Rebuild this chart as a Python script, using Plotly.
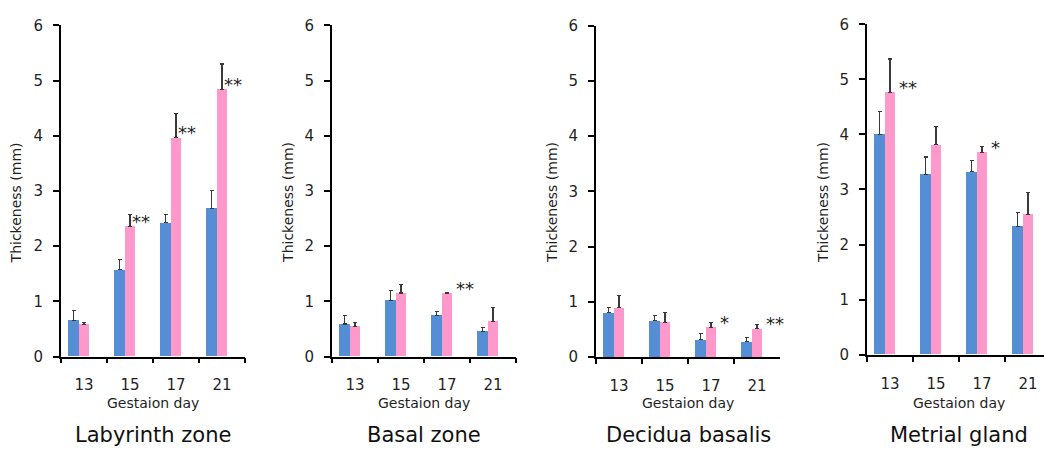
import plotly.graph_objects as go

# ---------------- data ----------------
days = ["13", "15", "17", "21"]
panel_titles = ["Labyrinth zone", "Basal zone", "Decidua basalis", "Metrial gland"]

blue_vals = [
    [0.65, 1.57, 2.42, 2.68],
    [0.59, 1.02, 0.75, 0.45],
    [0.80, 0.66, 0.32, 0.28],
    [4.00, 3.27, 3.32, 2.33],
]
blue_err = [
    [0.18, 0.18, 0.16, 0.32],
    [0.16, 0.18, 0.07, 0.07],
    [0.10, 0.09, 0.11, 0.07],
    [0.41, 0.32, 0.20, 0.26],
]
pink_vals = [
    [0.58, 2.36, 3.96, 4.84],
    [0.54, 1.15, 1.15, 0.63],
    [0.89, 0.63, 0.54, 0.52],
    [4.77, 3.81, 3.68, 2.55],
]
pink_err = [
    [0.04, 0.22, 0.44, 0.46],
    [0.08, 0.16, 0.01, 0.26],
    [0.23, 0.18, 0.08, 0.07],
    [0.60, 0.33, 0.10, 0.39],
]
sig_marks = [
    ["", "**", "**", "**"],
    ["", "", "**", ""],
    ["", "", "*", "**"],
    ["**", "", "*", ""],
]
y_ticks = [0, 1, 2, 3, 4, 5, 6]

# ---------------- style / layout ----------------
W, H = 1044, 450
FONT = "DejaVu Sans"
TXT = "#1f1f1f"
BLUE = "#558ED5"
PINK = "#FF99CC"
ERRC = "#3a3a3a"

# pixel geometry of each plot area: (x_left, x_right_full, y_top, y_bottom)
geo = [
    (61.0, 245.0, 17.0, 362.0),
    (332.0, 516.0, 17.0, 362.0),
    (596.0, 780.0, 17.5, 362.5),
    (867.0, 1051.0, 16.0, 360.0),
]
star_xshift = [0, 7, 7, 7]
title_dx = [-45.5, -44, -44, -44]

fig = go.Figure()
annotations = []

for i in range(4):
    xl, xr, yt, yb = geo[i]
    xr_vis = min(xr, W)
    ncat = len(days)
    catw = (xr - xl) / ncat
    rng_hi = -0.5 + (xr_vis - xl) / catw
    sfx = "" if i == 0 else str(i + 1)
    xa, ya = "x" + sfx, "y" + sfx

    fig.add_trace(go.Bar(
        x=days, y=blue_vals[i], xaxis=xa, yaxis=ya,
        marker=dict(color=BLUE, line=dict(width=0)),
        width=0.225, offset=-0.3375,
        error_y=dict(type="data", symmetric=False, array=blue_err[i],
                     arrayminus=[0] * ncat, color=ERRC, thickness=1.1, width=2),
        showlegend=False,
    ))
    fig.add_trace(go.Bar(
        x=days, y=pink_vals[i], xaxis=xa, yaxis=ya,
        marker=dict(color=PINK, line=dict(width=0)),
        width=0.225, offset=-0.1125,
        error_y=dict(type="data", symmetric=False, array=pink_err[i],
                     arrayminus=[0] * ncat, color=ERRC, thickness=1.1, width=2),
        showlegend=False,
    ))

    fig.layout[("xaxis" + sfx)] = dict(
        domain=[xl / W, xr_vis / W], anchor=ya,
        type="category", range=[-0.5, rng_hi],
        showline=True, linecolor="black", linewidth=1.8,
        ticks="outside", tickson="boundaries", ticklen=5, tickwidth=1.5, tickcolor="black",
        ticklabelstandoff=14,
        tickfont=dict(family=FONT, size=15, color=TXT),
        showgrid=False, zeroline=False, fixedrange=True,
    )
    fig.layout[("yaxis" + sfx)] = dict(
        domain=[1 - yb / H, 1 - yt / H], anchor=xa,
        range=[0, 6], tickvals=y_ticks,
        showline=True, linecolor="black", linewidth=1.8,
        ticks="outside", ticklen=6, tickwidth=1.5, tickcolor="black",
        ticklabelstandoff=7,
        tickfont=dict(family=FONT, size=15, color=TXT),
        showgrid=False, zeroline=False, fixedrange=True,
    )

    # significance marks (x given as category index)
    for j, m in enumerate(sig_marks[i]):
        if m:
            annotations.append(dict(
                x=j, y=pink_vals[i][j], xref=xa, yref=ya,
                text=m, showarrow=False, xanchor="left", yanchor="middle",
                xshift=star_xshift[i], yshift=5,
                font=dict(family=FONT, size=18, color=TXT),
            ))

    cx = (xl + xr) / 2
    # y axis title
    annotations.append(dict(
        x=(xl + title_dx[i]) / W, y=1 - 202 / H, xref="paper", yref="paper",
        text="Thickeness (mm)", textangle=-90, showarrow=False,
        xanchor="center", yanchor="middle",
        font=dict(family=FONT, size=14, color=TXT),
    ))
    # x axis title
    annotations.append(dict(
        x=cx / W, y=1 - 410 / H, xref="paper", yref="paper",
        text="Gestaion day", showarrow=False,
        xanchor="center", yanchor="middle",
        font=dict(family=FONT, size=14, color=TXT),
    ))
    # panel title
    annotations.append(dict(
        x=cx / W, y=1 - 444 / H, xref="paper", yref="paper",
        text=panel_titles[i], showarrow=False,
        xanchor="center", yanchor="middle",
        font=dict(family=FONT, size=21, color="#111111"),
    ))

fig.update_layout(
    width=W, height=H,
    margin=dict(l=0, r=0, t=0, b=0),
    paper_bgcolor="white", plot_bgcolor="white",
    barmode="overlay", bargap=0,
    annotations=annotations,
    showlegend=False,
)

fig.write_html("out.html", config={"displayModeBar": False})
